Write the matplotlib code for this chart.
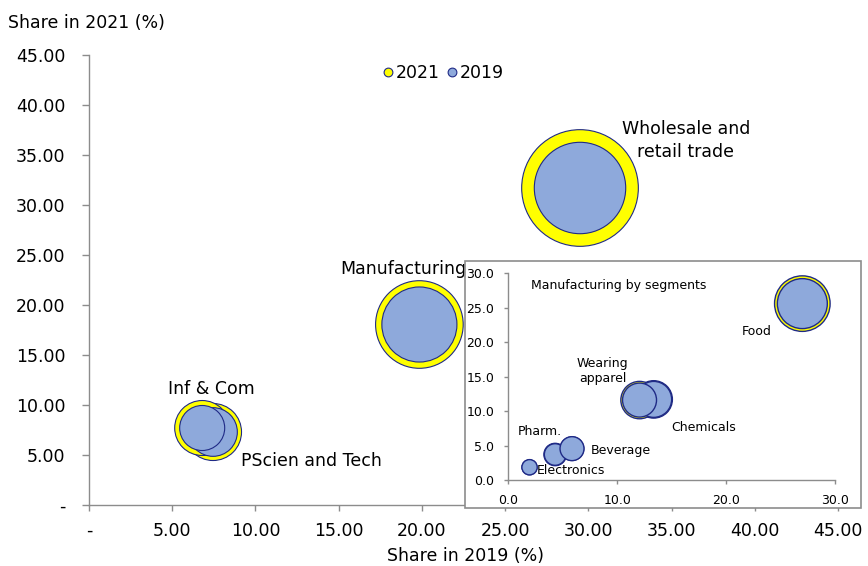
import matplotlib.pyplot as plt
from matplotlib.lines import Line2D
from matplotlib.patches import Rectangle

# sectors: x = share in 2019, y = share in 2021, bubble = relative size
sectors = ["Wholesale and retail trade", "Manufacturing", "PScien and Tech", "Inf & Com"]
share_2019 = [29.5, 19.85, 7.45, 6.8]
share_2021 = [31.7, 18.05, 7.3, 7.7]
size_2021 = [100, 56.4, 23.9, 22.2]
size_2019 = [61.4, 41.4, 17.4, 14.9]

# manufacturing segments (inset)
segments = ["Food", "Chemicals", "Wearing apparel", "Pharm.", "Beverage", "Electronics"]
seg_share_2019 = [27.0, 13.35, 12.05, 4.3, 5.85, 1.95]
seg_share_2021 = [25.6, 11.7, 11.6, 3.7, 4.55, 1.85]
seg_size_2021 = [100, 45.3, 45.3, 16.2, 18.0, 7.2]
seg_size_2019 = [80.9, 41.9, 37.4, 15.1, 18.6, 7.6]

main_ticks = [0, 5, 10, 15, 20, 25, 30, 35, 40, 45]
inset_xticks = [0, 10, 20, 30]
inset_yticks = [0, 5, 10, 15, 20, 25, 30]

YELLOW = "#FFFF00"
BLUE = "#8EA9DB"
NAVY = "#1F2A86"
GREY = "#8C8C8C"

plt.rcParams['font.family'] = ['DejaVu Sans']

W, H = 868, 566
fig = plt.figure(figsize=(W / 100, H / 100), dpi=100)


def fig_box(x0, y0, x1, y1):
    # pixel box (top-left origin) -> figure fraction [l, b, w, h]
    return [x0 / W, 1 - y1 / H, (x1 - x0) / W, (y1 - y0) / H]


# ---------- main chart ----------
ax = fig.add_axes(fig_box(89, 55, 838, 505), zorder=0)
max_main = max(size_2021 + size_2019)
ax.scatter(share_2019, share_2021, s=[v / max_main * 84 ** 2 for v in size_2021],
           c=YELLOW, edgecolors=NAVY, linewidths=0.8, zorder=2, clip_on=False)
ax.scatter(share_2019, share_2021, s=[v / max_main * 84 ** 2 for v in size_2019],
           c=BLUE, edgecolors=NAVY, linewidths=0.8, zorder=3, clip_on=False)

ax.set_xlim(0, 45)
ax.set_ylim(0, 45)
ax.set_xticks(main_ticks)
ax.set_yticks(main_ticks)
ax.set_xticklabels(["-" if t == 0 else f"{t:.2f}" for t in main_ticks])
ax.set_yticklabels(["-" if t == 0 else f"{t:.2f}" for t in main_ticks])
for side in ["top", "right"]:
    ax.spines[side].set_visible(False)
for side in ["left", "bottom"]:
    ax.spines[side].set_color(GREY)
    ax.spines[side].set_linewidth(1.0)
ax.tick_params(axis="y", length=5, width=1, color=GREY, pad=12, labelsize=12.5)
ax.tick_params(axis="x", length=4, width=1, color=GREY, pad=8, labelsize=12.5)

fs = 12.5
ax.text(35.85, 36.45, "Wholesale and\nretail trade", ha="center", va="center",
        fontsize=fs, linespacing=1.35, zorder=5)
ax.text(15.08, 23.6, "Manufacturing", ha="left", va="center", fontsize=fs, zorder=5)
ax.text(4.74, 11.6, "Inf & Com", ha="left", va="center", fontsize=fs, zorder=5)
ax.text(9.13, 4.4, "PScien and Tech", ha="left", va="center", fontsize=fs, zorder=5)

handles = [
    Line2D([], [], ls="none", marker="o", ms=6.3, mfc=YELLOW, mec=NAVY, mew=0.8, label="2021"),
    Line2D([], [], ls="none", marker="o", ms=6.3, mfc=BLUE, mec=NAVY, mew=0.8, label="2019"),
]
ax.legend(handles=handles, ncol=2, frameon=False, fontsize=fs, loc="center",
          bbox_to_anchor=(0.473, 0.96), handlelength=0.6, handletextpad=0.15,
          columnspacing=0.4, borderpad=0)

fig.text(8 / W, 1 - 23 / H, "Share in 2021 (%)", ha="left", va="center", fontsize=fs)
fig.text(466 / W, 1 - 556 / H, "Share in 2019 (%)", ha="center", va="center", fontsize=fs)

# ---------- inset frame ----------
fig.add_artist(Rectangle((465 / W, 1 - 507.5 / H), (861 - 465) / W, (507.5 - 261) / H,
                         transform=fig.transFigure, facecolor="white",
                         edgecolor=GREY, linewidth=1.2, zorder=1))

# ---------- inset chart ----------
ins = fig.add_axes(fig_box(508.3, 273.3, 835, 480), zorder=2)
ins.patch.set_alpha(0)
max_seg = max(seg_size_2021 + seg_size_2019)
ins.scatter(seg_share_2019, seg_share_2021, s=[v / max_seg * 40 ** 2 for v in seg_size_2021],
            c=YELLOW, edgecolors=NAVY, linewidths=1.0, zorder=2, clip_on=False)
ins.scatter(seg_share_2019, seg_share_2021, s=[v / max_seg * 40 ** 2 for v in seg_size_2019],
            c=BLUE, edgecolors=NAVY, linewidths=1.0, zorder=3, clip_on=False)
ins.set_xlim(0, 30)
ins.set_ylim(0, 30)
ins.set_xticks(inset_xticks)
ins.set_yticks(inset_yticks)
ins.set_xticklabels([f"{t:.1f}" for t in inset_xticks])
ins.set_yticklabels([f"{t:.1f}" for t in inset_yticks])
for side in ["top", "right"]:
    ins.spines[side].set_visible(False)
for side in ["left", "bottom"]:
    ins.spines[side].set_color(GREY)
    ins.spines[side].set_linewidth(1.0)
ins.tick_params(length=3, width=1, color=GREY, pad=7, labelsize=9)

ifs = 9
ins.text(2.08, 28.2, "Manufacturing by segments", ha="left", va="center", fontsize=ifs)
ins.text(21.4, 21.5, "Food", ha="left", va="center", fontsize=ifs)
ins.text(8.68, 15.8, "Wearing\napparel", ha="center", va="center", fontsize=ifs, linespacing=1.2)
ins.text(15.0, 7.55, "Chemicals", ha="left", va="center", fontsize=ifs)
ins.text(0.9, 6.97, "Pharm.", ha="left", va="center", fontsize=ifs)
ins.text(7.6, 4.35, "Beverage", ha="left", va="center", fontsize=ifs)
ins.text(2.64, 1.45, "Electronics", ha="left", va="center", fontsize=ifs, zorder=5)

fig.savefig("out.png", dpi=100)
